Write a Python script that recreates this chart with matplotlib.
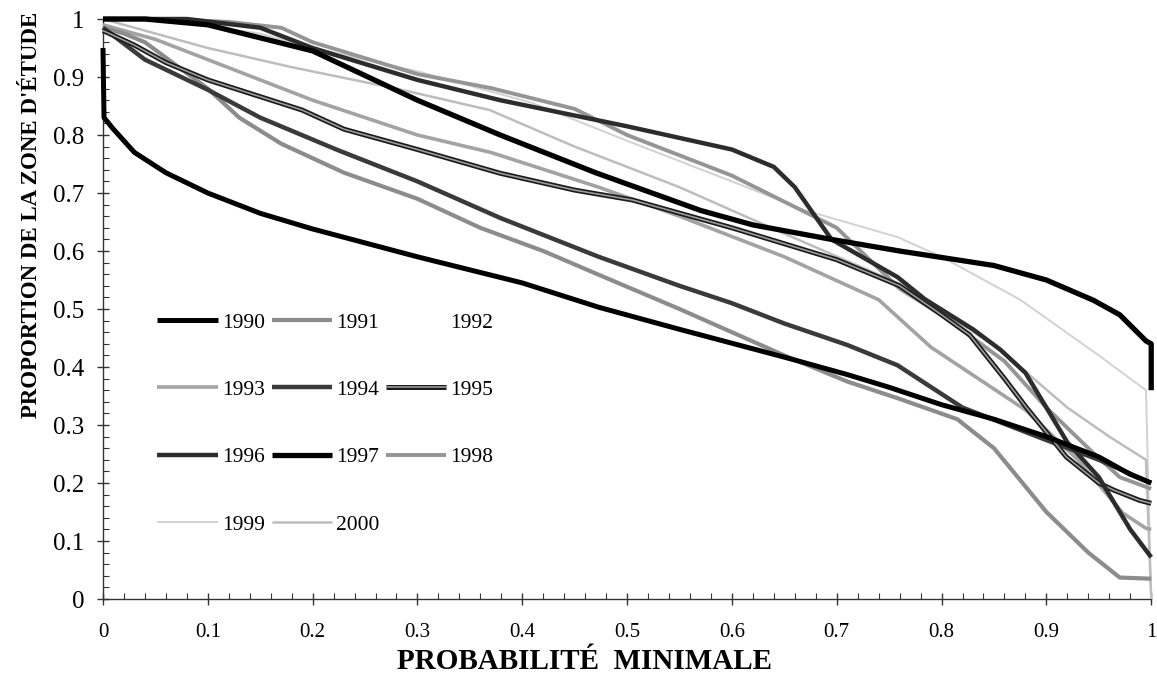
import matplotlib
matplotlib.use("Agg")
import matplotlib.pyplot as plt
import matplotlib.patheffects as pe
from matplotlib.ticker import MultipleLocator, FuncFormatter

# Courbes de proportion de la zone d'étude en fonction de la probabilité minimale
annees = ['1990', '1991', '1992', '1993', '1994', '1995',
          '1996', '1997', '1998', '1999', '2000']

x_1990 = [0, 0.001, 0.01, 0.03, 0.06, 0.1, 0.15, 0.2, 0.3, 0.4, 0.473, 0.55,
          0.6, 0.65, 0.71, 0.75, 0.8, 0.85, 0.9, 0.95, 0.98, 1.0]
y_1990 = [0.95, 0.83, 0.81, 0.77, 0.735, 0.70, 0.665, 0.638, 0.59, 0.545, 0.503, 0.465,
          0.441, 0.417, 0.387, 0.365, 0.335, 0.31, 0.28, 0.245, 0.215, 0.20]

x_1991 = [0, 0.02, 0.04, 0.07, 0.1, 0.13, 0.17, 0.23, 0.3, 0.36, 0.42, 0.473,
          0.55, 0.6, 0.65, 0.71, 0.76, 0.815, 0.85, 0.9, 0.94, 0.97, 1.0]
y_1991 = [0.985, 0.975, 0.96, 0.92, 0.88, 0.83, 0.785, 0.735, 0.69, 0.64, 0.60, 0.559,
          0.50, 0.46, 0.42, 0.375, 0.345, 0.31, 0.26, 0.15, 0.08, 0.037, 0.035]

x_1992 = [0, 0.2, 0.5, 0.8, 1.0]
y_1992 = [1.0, 0.86, 0.69, 0.45, 0.25]

x_1993 = [0, 0.05, 0.1, 0.2, 0.3, 0.37, 0.473, 0.55, 0.65, 0.74, 0.79, 0.88,
          0.93, 0.973, 0.995, 1.0]
y_1993 = [0.99, 0.965, 0.93, 0.86, 0.80, 0.77, 0.71, 0.66, 0.59, 0.516, 0.434, 0.326,
          0.24, 0.148, 0.122, 0.12]

x_1994 = [0, 0.04, 0.1, 0.15, 0.224, 0.3, 0.379, 0.473, 0.55, 0.6, 0.65, 0.71,
          0.758, 0.82, 0.9, 0.95, 1.0]
y_1994 = [0.985, 0.93, 0.878, 0.83, 0.774, 0.72, 0.657, 0.59, 0.54, 0.51, 0.475, 0.438,
          0.403, 0.33, 0.274, 0.24, 0.20]

x_1995 = [0, 0.03, 0.06, 0.1, 0.19, 0.23, 0.3, 0.379, 0.45, 0.505, 0.6, 0.7,
          0.76, 0.8, 0.827, 0.86, 0.881, 0.919, 0.95, 0.964, 0.989, 1.0]
y_1995 = [0.98, 0.955, 0.925, 0.895, 0.843, 0.81, 0.775, 0.734, 0.705, 0.688, 0.64, 0.585,
          0.54, 0.49, 0.455, 0.38, 0.33, 0.245, 0.20, 0.188, 0.17, 0.165]

x_1996 = [0, 0.08, 0.15, 0.2, 0.3, 0.379, 0.5, 0.6, 0.64, 0.66, 0.695, 0.758,
          0.784, 0.83, 0.856, 0.88, 0.9, 0.92, 0.95, 0.98, 1.0]
y_1996 = [1.0, 1.0, 0.985, 0.95, 0.895, 0.86, 0.815, 0.775, 0.745, 0.71, 0.62, 0.555,
          0.517, 0.465, 0.43, 0.39, 0.33, 0.27, 0.21, 0.12, 0.072]

x_1997 = [0, 0.04, 0.1, 0.2, 0.3, 0.379, 0.47, 0.57, 0.62, 0.695, 0.76, 0.85,
          0.9, 0.945, 0.97, 0.995, 1.0, 1.0]
y_1997 = [1.0, 1.0, 0.99, 0.945, 0.86, 0.80, 0.735, 0.67, 0.645, 0.62, 0.60, 0.575,
          0.55, 0.515, 0.49, 0.445, 0.44, 0.36]

x_1998 = [0, 0.06, 0.12, 0.17, 0.2, 0.3, 0.37, 0.45, 0.5, 0.55, 0.6, 0.7,
          0.76, 0.8, 0.86, 0.9, 0.94, 0.97, 1.0]
y_1998 = [1.0, 1.0, 0.995, 0.985, 0.96, 0.905, 0.881, 0.845, 0.80, 0.765, 0.73, 0.64,
          0.535, 0.49, 0.41, 0.33, 0.26, 0.21, 0.19]

x_1999 = [0, 0.05, 0.15, 0.2, 0.3, 0.41, 0.5, 0.6, 0.67, 0.758, 0.8, 0.875,
          0.95, 0.995, 1.0]
y_1999 = [1.0, 1.0, 0.975, 0.95, 0.91, 0.855, 0.79, 0.72, 0.67, 0.624, 0.59, 0.516,
          0.42, 0.36, 0.0]

x_2000 = [0, 0.05, 0.1, 0.18, 0.28, 0.369, 0.45, 0.55, 0.65, 0.758, 0.853, 0.92,
          0.96, 0.995, 1.0]
y_2000 = [1.0, 0.975, 0.95, 0.917, 0.88, 0.843, 0.78, 0.71, 0.63, 0.545, 0.434, 0.33,
          0.28, 0.24, 0.0]

donnees = {
    '1990': (x_1990, y_1990), '1991': (x_1991, y_1991), '1992': (x_1992, y_1992),
    '1993': (x_1993, y_1993), '1994': (x_1994, y_1994), '1995': (x_1995, y_1995),
    '1996': (x_1996, y_1996), '1997': (x_1997, y_1997), '1998': (x_1998, y_1998),
    '1999': (x_1999, y_1999), '2000': (x_2000, y_2000),
}

# Style de chaque année : couleur, épaisseur, ordre d'affichage
styles = {
    '1990': dict(color='black', lw=3.6, zorder=9),
    '1991': dict(color='#8c8c8c', lw=3.0, zorder=5),
    '1992': dict(color='white', lw=2.5, zorder=1),
    '1993': dict(color='#a3a3a3', lw=2.6, zorder=4),
    '1994': dict(color='#3a3a3a', lw=3.2, zorder=7),
    '1995': dict(color='#9a9a9a', lw=1.2, zorder=7,
                 path_effects=[pe.Stroke(linewidth=3.6, foreground='#1a1a1a'), pe.Normal()]),
    '1996': dict(color='#2c2c2c', lw=3.2, zorder=8),
    '1997': dict(color='black', lw=3.8, zorder=10),
    '1998': dict(color='#959595', lw=2.8, zorder=4),
    '1999': dict(color='#d2d2d2', lw=1.4, zorder=3),
    '2000': dict(color='#bdbdbd', lw=1.8, zorder=3),
}

plt.rcParams['font.family'] = ['Liberation Serif', 'DejaVu Serif']

fig = plt.figure(figsize=(11.57, 6.79), dpi=100)
ax = fig.add_axes([0.089, 0.1178, 0.906, 0.8542])

lignes = {}
for annee in annees:
    x, y = donnees[annee]
    ligne, = ax.plot(x, y, label=annee, clip_on=False, solid_joinstyle='round',
                     solid_capstyle='butt', **styles[annee])
    lignes[annee] = ligne

ax.set_xlim(0, 1)
ax.set_ylim(0, 1)

# Axes et graduations
for cote in ['top', 'right']:
    ax.spines[cote].set_visible(False)
for cote in ['left', 'bottom']:
    ax.spines[cote].set_linewidth(1.0)
    ax.spines[cote].set_color('#333333')

ax.xaxis.set_major_locator(MultipleLocator(0.1))
ax.xaxis.set_minor_locator(MultipleLocator(0.02))
ax.yaxis.set_major_locator(MultipleLocator(0.1))
ax.yaxis.set_minor_locator(MultipleLocator(0.02))
fmt = FuncFormatter(lambda v, p: '%g' % round(v, 2))
ax.xaxis.set_major_formatter(fmt)
ax.yaxis.set_major_formatter(fmt)

ax.tick_params(which='major', direction='inout', length=9, width=1.0, color='#333333')
ax.tick_params(which='minor', direction='in', length=4, width=0.8, color='#333333')
ax.tick_params(axis='x', which='major', labelsize=15, pad=13)
ax.tick_params(axis='y', which='major', labelsize=18, pad=9)

ax.set_xlabel('PROBABILITÉ  MINIMALE', fontsize=21, fontweight='bold')
ax.xaxis.set_label_coords(0.459, -0.085)
ax.set_ylabel("PROPORTION DE LA ZONE D'ÉTUDE", fontsize=16.5, fontweight='bold')
ax.yaxis.set_label_coords(-0.058, 0.662)

# Légende sur 4 lignes et 3 colonnes
ordre = ['1990', '1993', '1996', '1999', '1991', '1994', '1997', '2000',
         '1992', '1995', '1998']
ax.legend([lignes[a] for a in ordre], ordre, ncol=3, loc='upper left',
          bbox_to_anchor=(0.052, 0.494), frameon=False, fontsize=15.5,
          handlelength=2.8, handletextpad=0.2, columnspacing=0.3,
          labelspacing=2.2, borderpad=0, borderaxespad=0)

fig.savefig('out.png', dpi=100, facecolor='white')
